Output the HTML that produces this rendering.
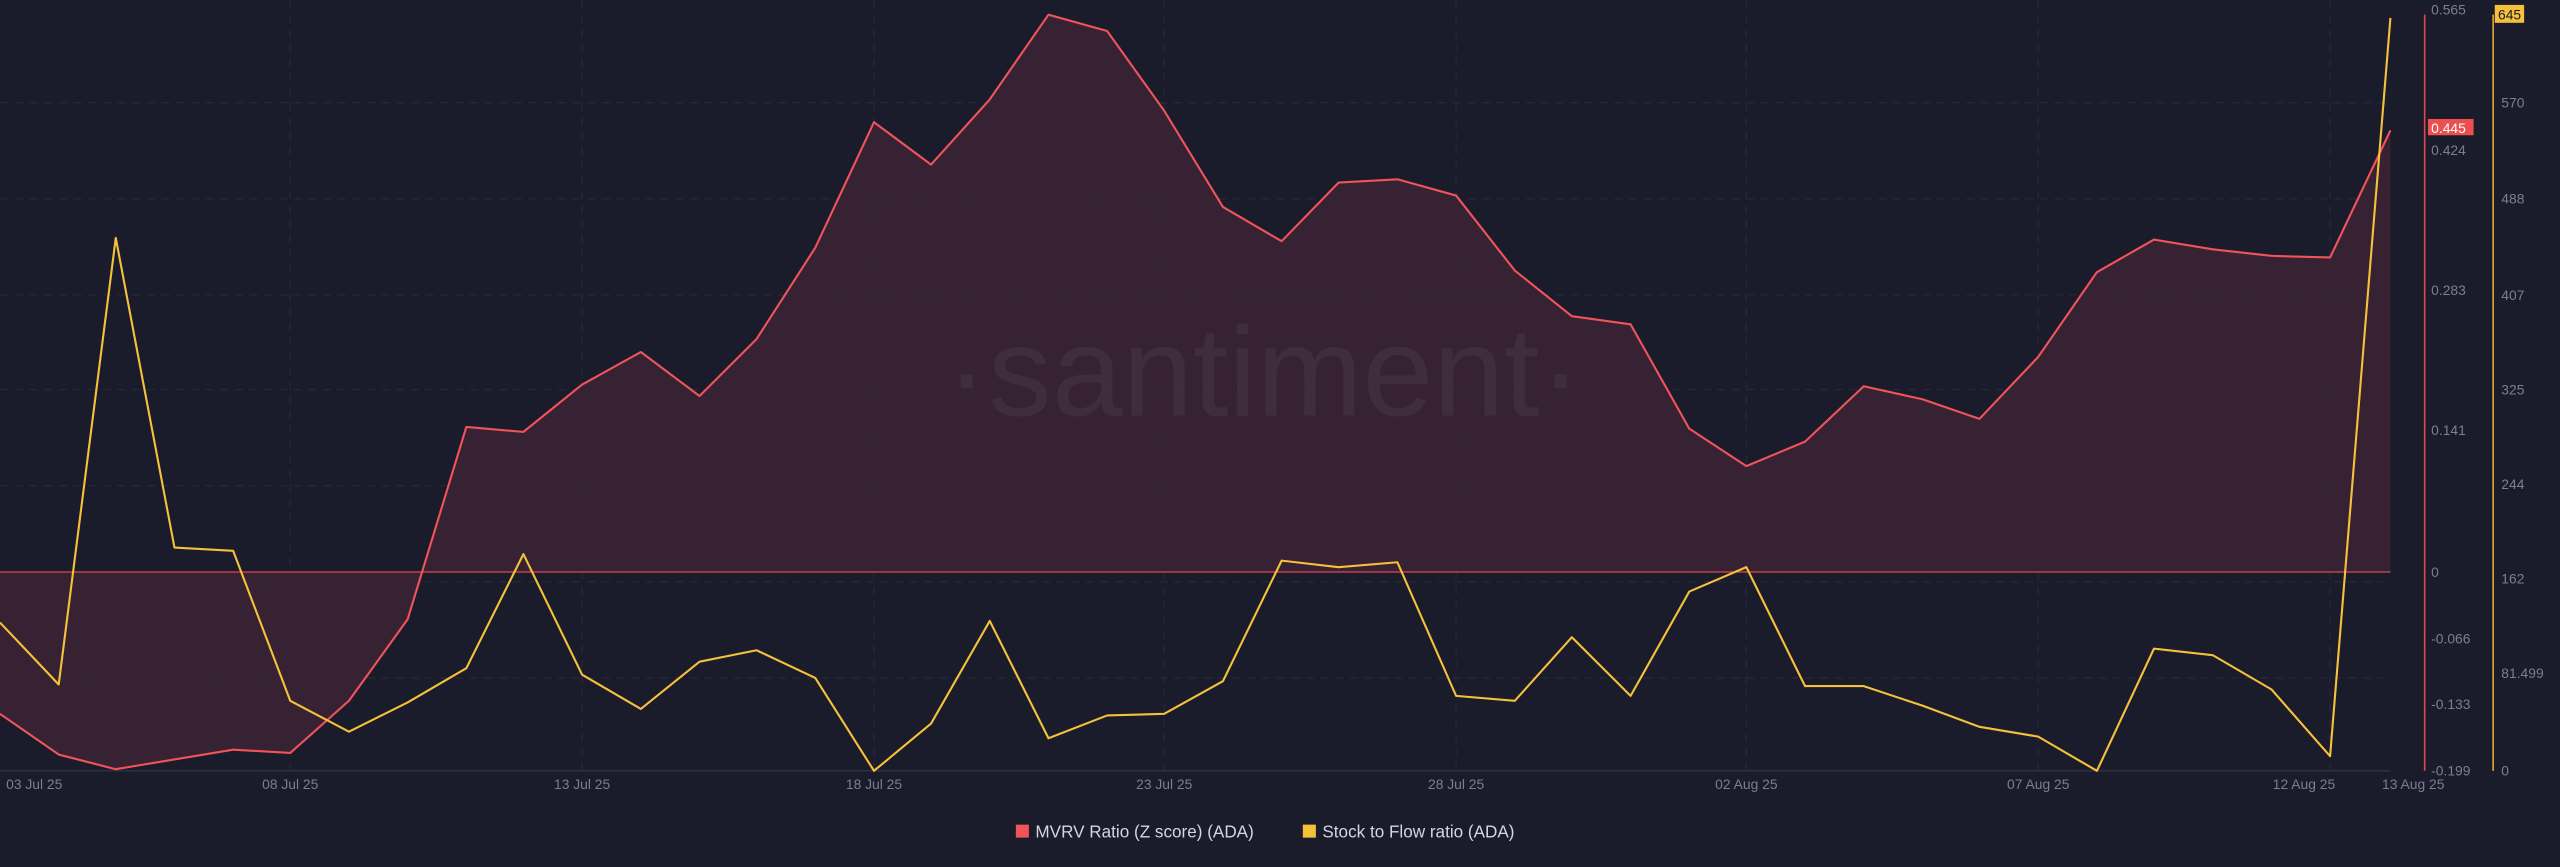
<!DOCTYPE html>
<html><head><meta charset="utf-8"><style>
html,body{margin:0;padding:0;background:#1a1b2b;}
svg{display:block;}
text{font-family:"Liberation Sans",sans-serif;}
</style></head><body>
<svg width="2560" height="867" viewBox="0 0 1570 532" preserveAspectRatio="none" xmlns="http://www.w3.org/2000/svg">
<rect width="1570" height="532" fill="#1a1b2b"/>
<g stroke="#262838" stroke-width="0.8" stroke-dasharray="5,4">
<line x1="0" y1="63" x2="1466" y2="63"/><line x1="0" y1="122" x2="1466" y2="122"/>
<line x1="0" y1="181" x2="1466" y2="181"/><line x1="0" y1="239" x2="1466" y2="239"/>
<line x1="0" y1="298" x2="1466" y2="298"/><line x1="0" y1="357" x2="1466" y2="357"/>
<line x1="0" y1="416" x2="1466" y2="416"/>
<line x1="178" y1="0" x2="178" y2="473"/><line x1="357" y1="0" x2="357" y2="473"/>
<line x1="536" y1="0" x2="536" y2="473"/><line x1="714" y1="0" x2="714" y2="473"/>
<line x1="893" y1="0" x2="893" y2="473"/><line x1="1071" y1="0" x2="1071" y2="473"/>
<line x1="1250" y1="0" x2="1250" y2="473"/><line x1="1429" y1="0" x2="1429" y2="473"/>
</g>
<line x1="0" y1="473" x2="1466" y2="473" stroke="#2c2e42" stroke-width="1"/>
<polygon fill="#3a2433" fill-opacity="0.9" points="0,351 0,438 36,463 71,472 107,466 143,460 178,462 214,430 250,380 286,262 321,265 357,236 393,216 429,243 464,208 500,152 536,75 571,101 607,61 643,9 679,19 714,68 750,127 786,148 821,112 857,110 893,120 929,166 964,194 1000,199 1036,263 1071,286 1107,271 1143,237 1179,245 1214,257 1250,219 1286,167 1321,147 1357,153 1393,157 1429,158 1466,80 1466,351"/>
<text x="775" y="255" font-size="78" fill="#ffffff" fill-opacity="0.05" text-anchor="middle">·santiment·</text>
<line x1="0" y1="351" x2="1466" y2="351" stroke="#e0474f" stroke-width="0.8"/>
<polyline fill="none" stroke="#f0535a" stroke-width="1.3" stroke-linejoin="round" points="0,438 36,463 71,472 107,466 143,460 178,462 214,430 250,380 286,262 321,265 357,236 393,216 429,243 464,208 500,152 536,75 571,101 607,61 643,9 679,19 714,68 750,127 786,148 821,112 857,110 893,120 929,166 964,194 1000,199 1036,263 1071,286 1107,271 1143,237 1179,245 1214,257 1250,219 1286,167 1321,147 1357,153 1393,157 1429,158 1466,80"/>
<polyline fill="none" stroke="#f5c13a" stroke-width="1.3" stroke-linejoin="round" points="0,382 36,420 71,146 107,336 143,338 178,430 214,449 250,431 286,410 321,340 357,414 393,435 429,406 464,399 500,416 536,473 571,444 607,381 643,453 679,439 714,438 750,418 786,344 821,348 857,345 893,427 929,430 964,391 1000,427 1036,363 1071,348 1107,421 1143,421 1179,433 1214,446 1250,452 1286,473 1321,398 1357,402 1393,423 1429,464 1466,11"/>
<line x1="1487" y1="9" x2="1487" y2="473" stroke="#e0474f" stroke-width="1"/>
<line x1="1529" y1="9" x2="1529" y2="473" stroke="#d9a634" stroke-width="1"/>
<g font-size="8.5" fill="#7b7f94">
<text x="1491" y="9">0.565</text><text x="1491" y="95">0.424</text><text x="1491" y="181">0.283</text>
<text x="1491" y="267">0.141</text><text x="1491" y="354">0</text><text x="1491" y="395">-0.066</text>
<text x="1491" y="435">-0.133</text><text x="1491" y="476">-0.199</text>
<text x="1534" y="66">570</text><text x="1534" y="125">488</text><text x="1534" y="184">407</text>
<text x="1534" y="242">325</text><text x="1534" y="300">244</text><text x="1534" y="358">162</text>
<text x="1534" y="416">81.499</text><text x="1534" y="476">0</text>
</g>
<rect x="1489" y="73" width="28" height="10" fill="#e9504f"/>
<text x="1491" y="81.5" font-size="8.5" fill="#ffffff">0.445</text>
<rect x="1530" y="3" width="18" height="11" fill="#f5c13a"/>
<text x="1532" y="12" font-size="8.5" fill="#1a1b2b">645</text>
<g font-size="8.5" fill="#7b7f94" text-anchor="middle">
<text x="21" y="484">03 Jul 25</text><text x="178" y="484">08 Jul 25</text><text x="357" y="484">13 Jul 25</text>
<text x="536" y="484">18 Jul 25</text><text x="714" y="484">23 Jul 25</text><text x="893" y="484">28 Jul 25</text>
<text x="1071" y="484">02 Aug 25</text><text x="1250" y="484">07 Aug 25</text><text x="1413" y="484">12 Aug 25</text>
<text x="1480" y="484">13 Aug 25</text>
</g>
<rect x="623" y="506" width="8" height="8" fill="#f0535a"/>
<text x="635" y="514" font-size="10.5" fill="#d4d6e0">MVRV Ratio (Z score) (ADA)</text>
<rect x="799" y="506" width="8" height="8" fill="#f5c13a"/>
<text x="811" y="514" font-size="10.5" fill="#d4d6e0">Stock to Flow ratio (ADA)</text>
</svg>
</body></html>
